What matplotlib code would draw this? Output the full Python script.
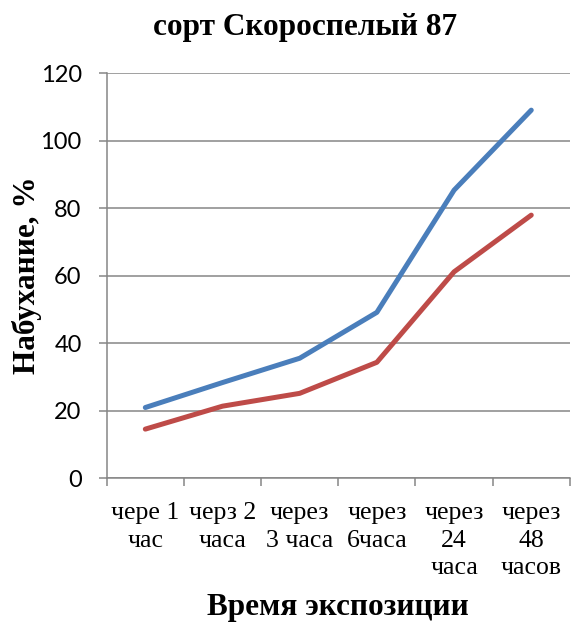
import matplotlib
matplotlib.use("Agg")
import matplotlib.pyplot as plt
import numpy as np

categories = ["чере 1\nчас", "черз 2\nчаса", "через\n3 часа", "через\n6часа",
              "через\n24\nчаса", "через\n48\nчасов"]
series_blue = [21.0, 28.4, 35.6, 49.2, 85.4, 109.1]
series_red = [14.6, 21.4, 25.2, 34.4, 61.2, 78.0]
yticks = [0, 20, 40, 60, 80, 100, 120]

plt.rcParams['font.family'] = ['Liberation Serif', 'DejaVu Serif']

fig = plt.figure(figsize=(5.71, 6.27), dpi=100)
ax = fig.add_axes([0.1869, 0.237, 0.998 - 0.1869, 0.883 - 0.237])

x = np.arange(len(categories))
ax.plot(x, series_blue, color='#4A7EBB', lw=3.6, solid_capstyle='round', zorder=3)
ax.plot(x, series_red, color='#BE4B48', lw=3.6, solid_capstyle='round', zorder=3)

ax.set_xlim(-0.5, len(categories) - 0.5)
ax.set_ylim(0, 120)
ax.set_yticks(yticks)
ax.set_yticklabels([str(v) for v in yticks], fontsize=17, family=['Lato', 'DejaVu Sans'])
ax.yaxis.grid(True, color='#868686', lw=1.1)
ax.set_axisbelow(True)

ax.set_xticks(x)
ax.set_xticklabels(categories, fontsize=18.5, linespacing=1.33)
ax.set_xticks(np.arange(-0.5, len(categories)), minor=True)
ax.tick_params(axis='x', which='major', length=0, pad=17)
ax.tick_params(axis='x', which='minor', length=6, width=1.1, color='#868686', direction='out')
ax.tick_params(axis='y', length=6, width=1.1, color='#868686', pad=12)

for s in ['top', 'right']:
    ax.spines[s].set_visible(False)
for s in ['left', 'bottom']:
    ax.spines[s].set_color('#868686')
    ax.spines[s].set_linewidth(1.1)

fig.text(0.534, 1 - 27 / 627, "сорт Скороспелый 87", ha='center', va='center',
         fontsize=22.5, fontweight='bold')
fig.text(338 / 571, 1 - 608 / 627, "Время экспозиции", ha='center', va='center',
         fontsize=22.5, fontweight='bold')
fig.text(27 / 571, 1 - 275 / 627, "Набухание, %", ha='center', va='center',
         fontsize=22.5, fontweight='bold', rotation=90)

fig.savefig("out.png", dpi=100)
